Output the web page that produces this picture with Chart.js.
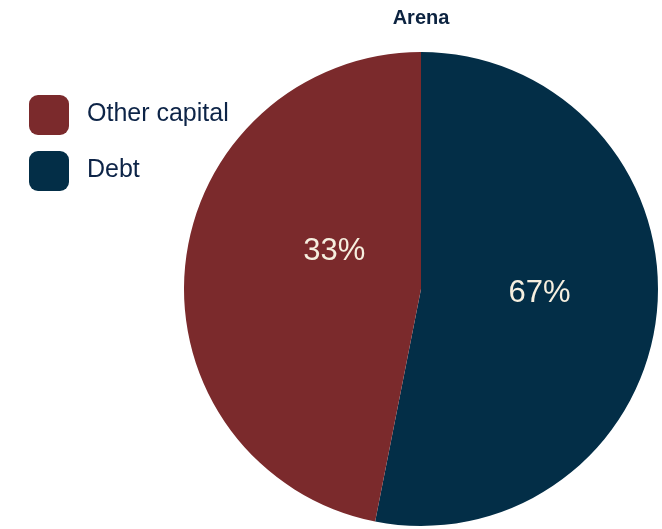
<!DOCTYPE html>
<html>
<head>
<meta charset="utf-8">
<script src="https://cdn.jsdelivr.net/npm/chart.js@4.4.1/dist/chart.umd.min.js"></script>
<style>
  html, body { margin: 0; padding: 0; background: #ffffff; }
  #wrap { position: relative; width: 662px; height: 529px; }
  #legend { position: absolute; left: 29px; top: 95px; font-family: "Liberation Sans", Arial, sans-serif; }
  .item { display: flex; align-items: center; height: 40px; margin-bottom: 16px; }
  .swatch { width: 40px; height: 40px; border-radius: 9px; margin-right: 18px; }
  .txt { font-size: 25px; color: #0d2447; position: relative; top: -3px; }
</style>
</head>
<body>
<div id="wrap">
  <canvas id="chart" width="662" height="529"></canvas>
  <div id="legend"></div>
</div>
<script>
// Pie data (slice sizes) and the printed labels
const categories = ['Debt', 'Other capital'];
const sliceValues = [53.1, 46.9];
const sliceLabels = ['67%', '33%'];
const sliceColors = ['#032e47', '#7b2a2c'];
const legendOrder = [1, 0];

// where each label sits inside its slice: angle from top (deg), share of radius
const labelSpots = [
    { angle: 91.5, r: 0.5 },
    { angle: 294, r: 0.4 }
];

const pieLabels = {
    id: 'pieLabels',
    afterDatasetsDraw(chart) {
        const ctx = chart.ctx;
        const arc = chart.getDatasetMeta(0).data[0];
        ctx.save();
        ctx.font = '31px "Liberation Sans", Arial, sans-serif';
        ctx.fillStyle = '#f6efdf';
        ctx.textAlign = 'center';
        ctx.textBaseline = 'middle';
        sliceLabels.forEach((txt, i) => {
            const a = labelSpots[i].angle * Math.PI / 180;
            const d = labelSpots[i].r * arc.outerRadius;
            ctx.fillText(txt, arc.x + Math.sin(a) * d, arc.y - Math.cos(a) * d + 1);
        });
        ctx.restore();
    }
};

new Chart(document.getElementById('chart'), {
    type: 'pie',
    data: {
        labels: categories,
        datasets: [{
            data: sliceValues,
            backgroundColor: sliceColors,
            borderWidth: 0
        }]
    },
    options: {
        responsive: false,
        animation: false,
        layout: { padding: { left: 183, right: 3, top: 0, bottom: 3 } },
        plugins: {
            legend: { display: false },
            tooltip: { enabled: false },
            title: {
                display: true,
                text: 'Arena',
                color: '#0c2340',
                font: { family: '"Liberation Sans", Arial, sans-serif', size: 20, weight: 'bold' },
                padding: { top: 6, bottom: 22 }
            }
        }
    },
    plugins: [pieLabels]
});

// legend drawn as html next to the pie
const legendEl = document.getElementById('legend');
legendOrder.forEach(i => {
    const row = document.createElement('div');
    row.className = 'item';
    row.innerHTML = '<div class="swatch" style="background:' + sliceColors[i] + '"></div><span class="txt">' + categories[i] + '</span>';
    legendEl.appendChild(row);
});
</script>
</body>
</html>
